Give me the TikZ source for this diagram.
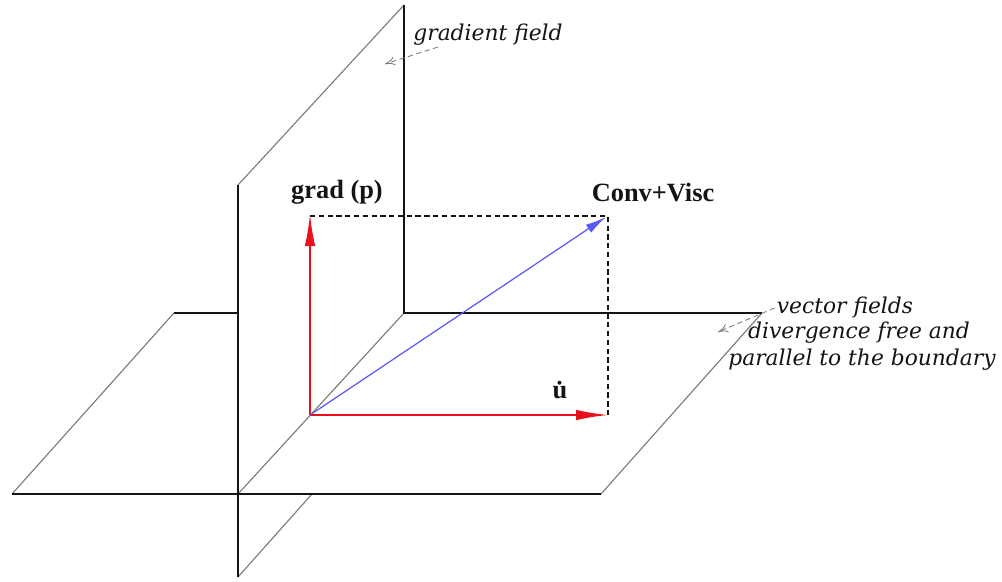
\documentclass[tikz,border=0pt]{standalone}
\usepackage{amsmath,amssymb}
\usepackage{fontspec}
\setmainfont{Liberation Serif}
\newfontfamily\notefont{DejaVu Serif}
\usepackage{xcolor}
\usepackage{tikz}
\usetikzlibrary{positioning,arrows.meta,calc}
\definecolor{ink}{HTML}{141414}
\definecolor{edge}{HTML}{7C7C7C}
\definecolor{redvec}{HTML}{E8101A}
\definecolor{bluevec}{HTML}{5A5AF0}
\begin{document}
\begin{tikzpicture}[
  x=0.2mm, y=-0.2mm,
  frame/.style = {draw=ink, line width=1.1pt},
  slant/.style = {draw=edge, line width=0.65pt},
  guide/.style = {draw=ink, line width=0.8pt, dash pattern=on 3pt off 2pt},
  force/.style = {draw=redvec, line width=1.1pt, -{Latex[length=6.4mm, width=2.1mm]}},
  total/.style = {draw=bluevec, line width=0.7pt, -{Latex[length=4.2mm, width=1.9mm]}},
  hint/.style  = {draw=edge, line width=0.5pt, densely dashed,
                  -{To[length=2mm, width=1.8mm]}},
  lbl/.style   = {font=\bfseries\fontsize{15}{18}\selectfont, text=ink, inner sep=0pt},
  note/.style  = {font=\notefont\itshape\fontsize{12.4}{15}\selectfont, text=ink, inner sep=0pt},
]
\useasboundingbox (0,0) rectangle (1002,581);

% ---- corners ----------------------------------------------------------
\coordinate (fl) at (12,494);   % horizontal plane
\coordinate (fr) at (601,494);
\coordinate (br) at (762,313);
\coordinate (bl) at (174,313);
\coordinate (vb) at (238,577);  % vertical plane
\coordinate (vt) at (238,185);
\coordinate (vk) at (404,5);
\coordinate (vm) at (404,313);
\coordinate (vl) at (238,313);
\coordinate (vi) at (238,494);
\coordinate (vh) at (312,494);

% ---- planes -----------------------------------------------------------
\draw[slant] (fl) -- (bl);
\draw[slant] (fr) -- (br);
\draw[slant] (vt) -- (vk);
\draw[slant] (vi) -- (vm);
\draw[slant] (vb) -- (vh);
\draw[frame] (fl) -- (fr);
\draw[frame] (bl) -- (vl);
\draw[frame] (vk) -- (vm) -- (br);
\draw[frame] (vt) -- (vb);

% ---- vectors ----------------------------------------------------------
\coordinate (o)  at (310,415);
\coordinate (gp) at (310,214);
\coordinate (ud) at (608,415);
\coordinate (cv) at (606,217);
\coordinate (gc) at (608,216);

\draw[guide] (310,216) -- (gc) -- (ud);
\draw[force] (o) -- (gp);
\draw[force] (o) -- (ud);
\draw[total] (o) -- (cv);

% ---- labels -----------------------------------------------------------
\node[lbl] (grad) at (337,192) {grad (p)};
\node[lbl] (conv) at (653,193) {Conv+Visc};
\node[lbl] (udot) at (560,390) {\.u};

\node[note] (gfield) at (488,35) {gradient field};
\node[note] (vf1) at (845,307) {vector fields};
\node[note] (vf2) at (859,333) {divergence free and};
\node[note] (vf3) at (862,360) {parallel to the boundary};

\coordinate (gtip) at (385,64);
\coordinate (vtip) at (718,332);
\draw[hint] (438,47) -- (gtip);
\draw[hint] (vf1.west) ++(-2,1) -- (vtip);

\end{tikzpicture}
\end{document}
